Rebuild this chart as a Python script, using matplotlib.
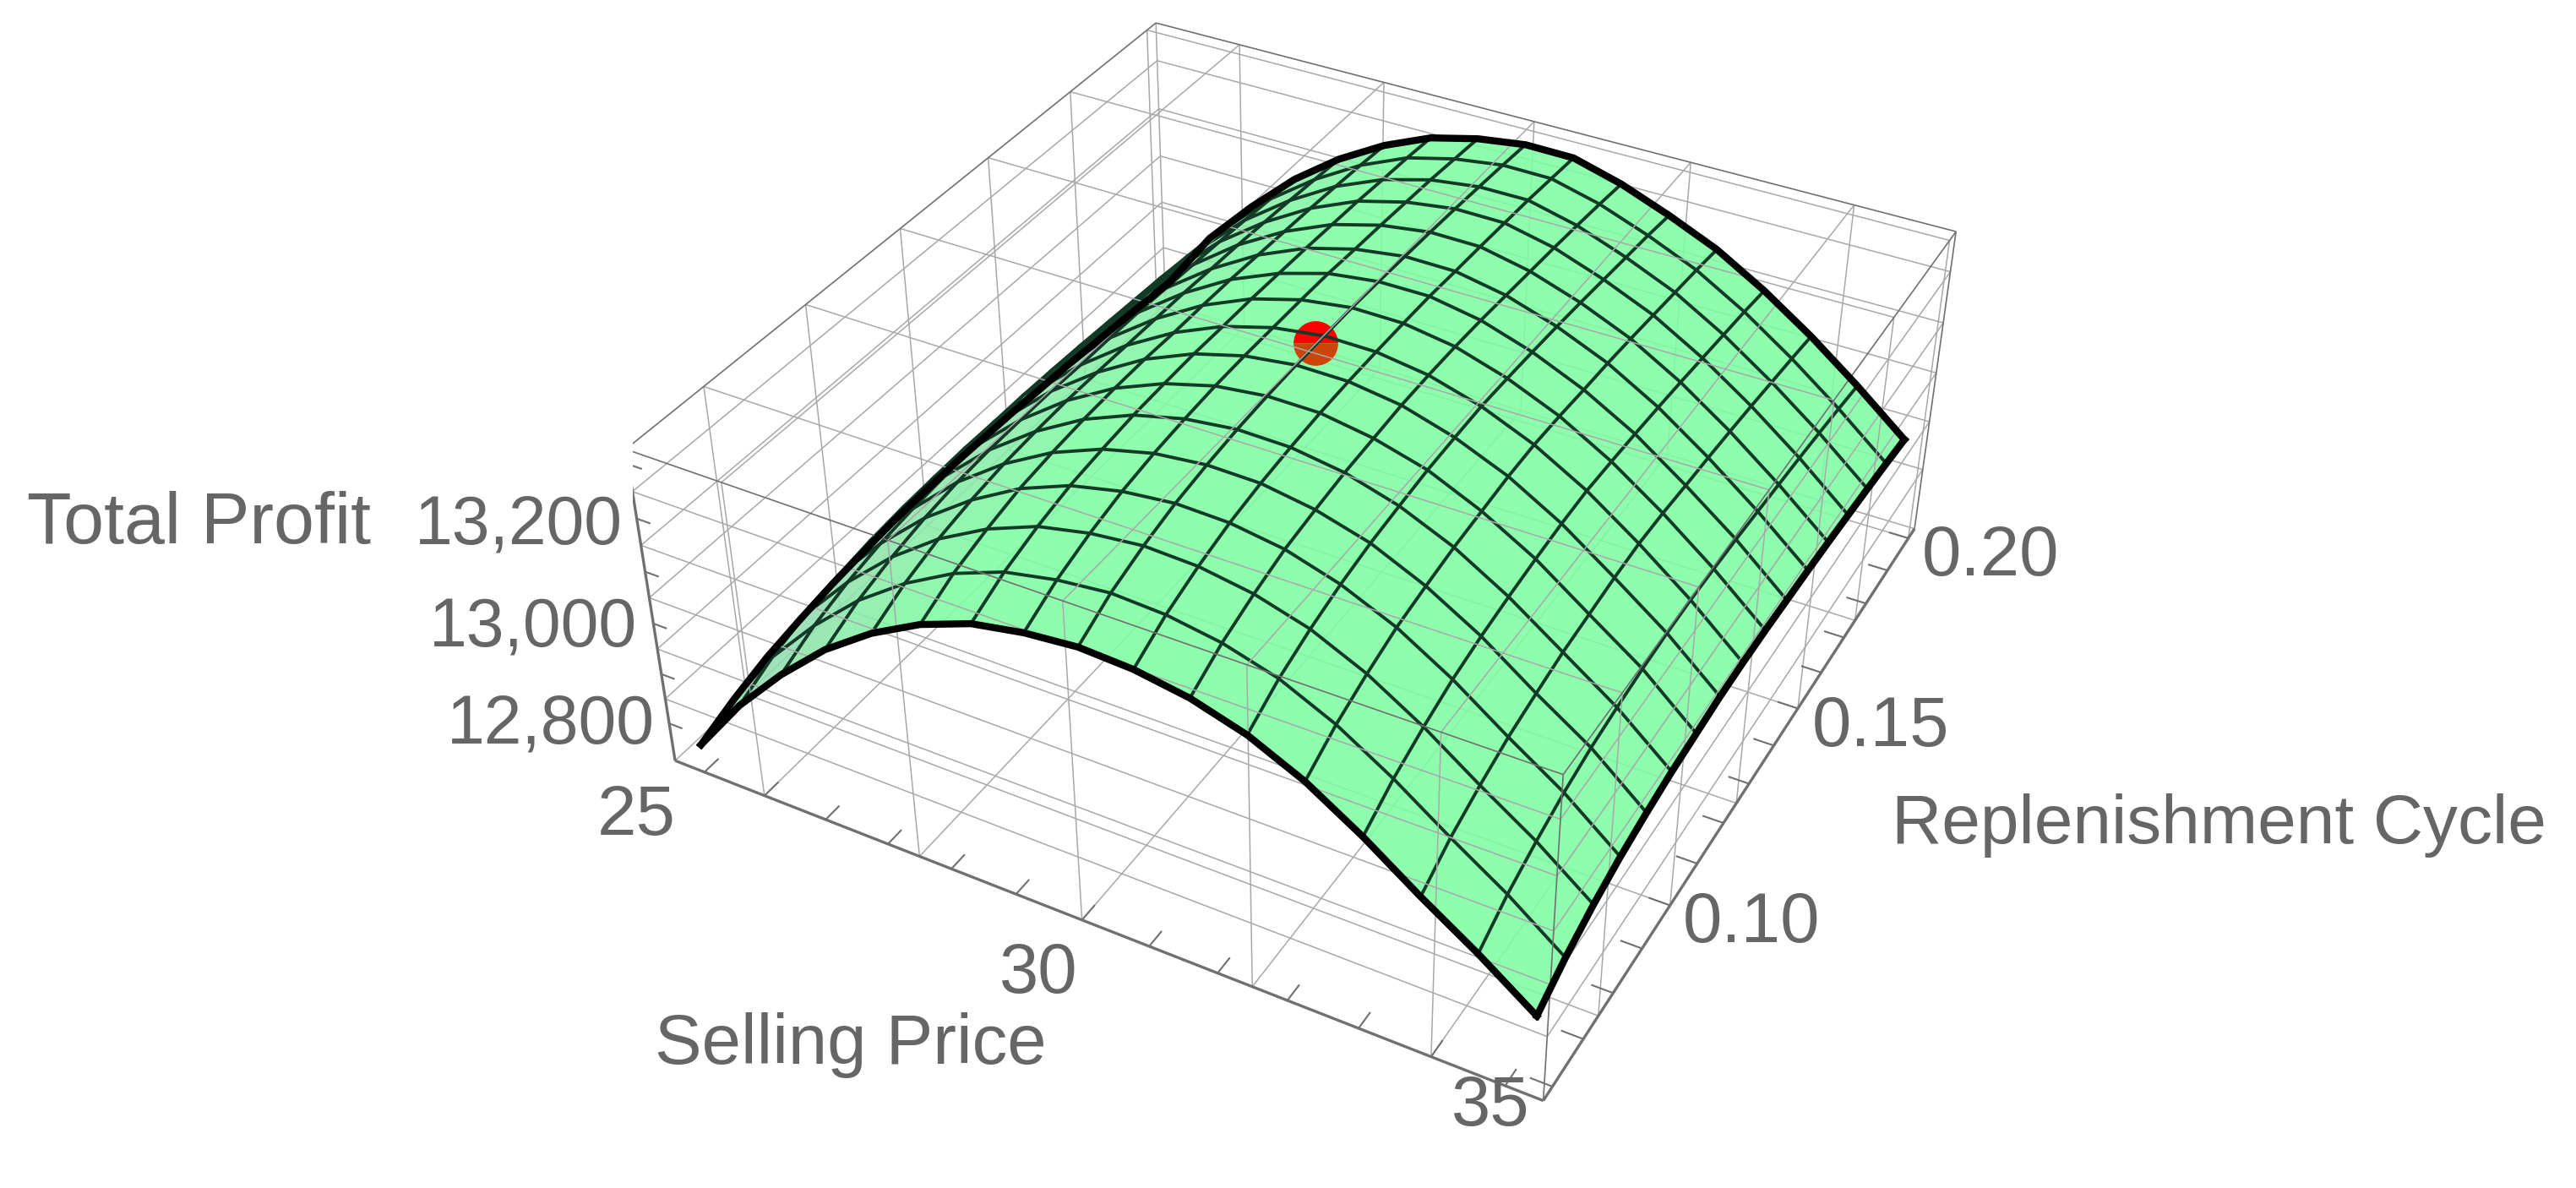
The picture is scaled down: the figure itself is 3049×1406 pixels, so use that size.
import numpy as np
import matplotlib
matplotlib.use('Agg')
import matplotlib.pyplot as plt

plt.rcParams['font.family'] = ['Liberation Sans', 'DejaVu Sans']

W, H = 3049, 1406

# box limits of the 3d frame
x_lim = (23.5057, 36.5066)
y_lim = (0.0571, 0.203)
z_lim = (12723, 13327)

# selling price / replenishment cycle at the mesh nodes
price = [23.766, 24.545, 25.324, 26.103, 26.882, 27.660, 28.439, 29.218, 29.997,
         30.776, 31.554, 32.333, 33.112, 33.891, 34.670, 35.448, 36.247]
cycle = [0.0601, 0.0688, 0.0776, 0.0863, 0.0951, 0.1038, 0.1126, 0.1213, 0.1300,
         0.1388, 0.1475, 0.1563, 0.1650, 0.1738, 0.1825, 0.1913, 0.2000]

# total profit, one row per cycle value
profit = [
    [12745, 12862, 12959, 13043, 13109, 13160, 13196, 13214, 13223, 13218, 13202, 13172, 13125, 13062, 12990, 12923, 12847],
    [12772, 12894, 12991, 13074, 13140, 13192, 13228, 13247, 13257, 13252, 13236, 13207, 13160, 13098, 13027, 12960, 12881],
    [12793, 12916, 13013, 13095, 13162, 13213, 13250, 13270, 13280, 13276, 13260, 13231, 13185, 13124, 13053, 12986, 12906],
    [12806, 12932, 13028, 13110, 13176, 13229, 13266, 13287, 13297, 13294, 13279, 13249, 13205, 13145, 13074, 13007, 12924],
    [12817, 12942, 13037, 13120, 13186, 13238, 13275, 13298, 13308, 13306, 13290, 13262, 13217, 13159, 13088, 13022, 12936],
    [12824, 12948, 13043, 13125, 13191, 13244, 13282, 13305, 13316, 13314, 13299, 13270, 13227, 13169, 13100, 13031, 12945],
    [12830, 12951, 13046, 13127, 13194, 13247, 13285, 13310, 13321, 13320, 13304, 13277, 13233, 13177, 13107, 13038, 12950],
    [12832, 12953, 13047, 13128, 13194, 13248, 13287, 13312, 13324, 13323, 13309, 13280, 13239, 13183, 13114, 13042, 12955],
    [12833, 12952, 13046, 13126, 13193, 13246, 13286, 13312, 13325, 13324, 13310, 13282, 13241, 13186, 13118, 13043, 12956],
    [12831, 12952, 13045, 13126, 13192, 13246, 13286, 13312, 13325, 13324, 13309, 13279, 13238, 13183, 13116, 13041, 12955],
    [12829, 12950, 13043, 13125, 13191, 13245, 13284, 13311, 13323, 13323, 13306, 13275, 13233, 13179, 13111, 13038, 12952],
    [12825, 12947, 13040, 13122, 13188, 13242, 13282, 13307, 13320, 13319, 13301, 13270, 13229, 13174, 13107, 13033, 12949],
    [12822, 12943, 13037, 13119, 13186, 13239, 13279, 13304, 13317, 13316, 13296, 13264, 13223, 13168, 13102, 13028, 12945],
    [12816, 12939, 13032, 13116, 13182, 13236, 13276, 13300, 13313, 13312, 13291, 13257, 13216, 13161, 13096, 13023, 12940],
    [12811, 12935, 13028, 13112, 13178, 13232, 13271, 13296, 13308, 13308, 13285, 13250, 13209, 13154, 13089, 13017, 12935],
    [12805, 12929, 13022, 13107, 13173, 13227, 13267, 13290, 13303, 13302, 13278, 13243, 13202, 13147, 13082, 13010, 12929],
    [12799, 12923, 13017, 13101, 13168, 13221, 13261, 13284, 13297, 13296, 13270, 13234, 13193, 13138, 13074, 13002, 12922],
]

# optimum marked on the surface
best_price = 29.92
best_cycle = 0.129
best_profit = 13315

# face grid and tick positions
x_grid = [25, 27.5, 30, 32.5, 35]
y_grid = [0.075, 0.1, 0.125, 0.15, 0.175, 0.2]
z_grid = [12850, 12950, 13050, 13150, 13250]
x_ticks = [24, 25, 26, 27, 28, 29, 30, 31, 32, 33, 34, 35, 36]
y_ticks = [0.06, 0.07, 0.08, 0.09, 0.1, 0.11, 0.12, 0.13, 0.14, 0.15, 0.16, 0.17, 0.18, 0.19, 0.2]
z_ticks = [12800, 12900, 13000, 13100, 13200, 13300]

GRID = '#a8a8a8'
FRAME = '#707070'
TEXT = '#666666'

fig = plt.figure(figsize=(W / 100, H / 100), dpi=100)
s, cx, cy = 1595.35, 1546.3, 604.25
ax = fig.add_axes([(cx - s / 2) / W, 1 - (cy + s / 2) / H, s / W, s / H],
                  projection='3d', computed_zorder=False)
ax.view_init(elev=36.1374, azim=-61.7041, roll=-0.1038)
ax.set_proj_type('persp', focal_length=0.4325)
ax.set_box_aspect((2.5087, 2.5137, 1))
ax.set_axis_off()
ax.patch.set_alpha(0)

x0, x1 = x_lim
y0, y1 = y_lim
z0, z1 = z_lim


def seg(a, b, color=GRID, lw=1.1, zorder=1):
    ax.plot([a[0], b[0]], [a[1], b[1]], [a[2], b[2]], color=color, lw=lw,
            zorder=zorder, solid_capstyle='butt')


# hidden faces (behind the surface) first, then the near ones on top of it
for x in x_grid:
    seg((x, y1, z0), (x, y1, z1))
    seg((x, y0, z0), (x, y1, z0))
    seg((x, y0, z1), (x, y1, z1), zorder=5)
    seg((x, y0, z0), (x, y0, z1), zorder=5)
for y in y_grid:
    seg((x0, y, z0), (x0, y, z1))
    seg((x0, y, z0), (x1, y, z0))
    seg((x0, y, z1), (x1, y, z1), zorder=5)
    seg((x1, y, z0), (x1, y, z1), zorder=5)
for z in z_grid:
    seg((x0, y0, z), (x0, y1, z))
    seg((x0, y1, z), (x1, y1, z))
    seg((x0, y0, z), (x1, y0, z), zorder=5)
    seg((x1, y0, z), (x1, y1, z), zorder=5)

# frame
for a, b in [((x0, y1, z0), (x0, y1, z1)), ((x0, y1, z0), (x1, y1, z0)), ((x0, y0, z0), (x0, y1, z0))]:
    seg(a, b, color=GRID)
for a, b in [((x0, y0, z1), (x0, y1, z1)), ((x0, y1, z1), (x1, y1, z1)), ((x1, y1, z1), (x1, y0, z1)),
             ((x0, y0, z1), (x1, y0, z1)), ((x1, y0, z0), (x1, y0, z1)), ((x1, y1, z0), (x1, y1, z1))]:
    seg(a, b, color=FRAME, lw=1.2, zorder=5)
for a, b in [((x0, y0, z0), (x0, y0, z1)), ((x0, y0, z0), (x1, y0, z0)), ((x1, y0, z0), (x1, y1, z0))]:
    seg(a, b, color=FRAME, lw=2.4, zorder=5)

# tick marks
for x in x_ticks:
    seg((x, y0, z0), (x, y0 + 0.0035, z0), color=FRAME, lw=1.5, zorder=5)
for y in y_ticks:
    seg((x1, y, z0), (x1 - 0.3, y, z0), color=FRAME, lw=1.5, zorder=5)
for z in z_ticks:
    seg((x0, y0, z), (x0 + 0.22, y0, z), color=FRAME, lw=1.5, zorder=5)

X, Y = np.meshgrid(price, cycle)
Z = np.array(profit, float)

# steep side towards the low prices is a bit greyer
xc = 0.5 * (X[:-1, :-1] + X[:-1, 1:])
t = np.clip((27.8 - xc) / 3.0, 0, 1)[..., None]
bright = np.array([126, 253, 163, 255]) / 255
dull = np.array([147, 219, 174, 255]) / 255
cols = (1 - t) * bright + t * dull
cols[..., 3] = 0.88
ax.plot_surface(X, Y, Z, facecolors=cols, rstride=1, cstride=1, shade=False,
                linewidth=0, antialiased=False, zorder=2)

# the point sits half inside the surface
ax.plot([best_price], [best_cycle], [best_profit], marker='o', ms=38, fillstyle='top', mew=0,
        mfc='#ff0000', mfcalt='#cc4408', ls='none', zorder=3)

# mesh
for j in range(1, len(price) - 1):
    ax.plot(X[:, j], Y[:, j], Z[:, j], color='#123a26', lw=2.8, zorder=4)
for i in range(1, len(cycle) - 1):
    ax.plot(X[i], Y[i], Z[i], color='#123a26', lw=2.8, zorder=4)

# boundary
ax.plot(X[0], Y[0], Z[0], color='black', lw=6, zorder=6)
ax.plot(X[-1], Y[-1], Z[-1], color='black', lw=6, zorder=6)
ax.plot(X[:, 0], Y[:, 0], Z[:, 0], color='black', lw=6, zorder=6)
ax.plot(X[:, -1], Y[:, -1], Z[:, -1], color='black', lw=6, zorder=6)

ax.set_xlim(x0, x1)
ax.set_ylim(y0, y1)
ax.set_zlim(z0, z1)


def label(px, py, s, ha='center', size=58):
    fig.text(px / W, 1 - py / H, s, ha=ha, va='center', color=TEXT, fontsize=size)


label(32, 621, 'Total Profit', ha='left', size=62)
label(737, 622, '13,200', ha='right')
label(754, 744, '13,000', ha='right')
label(775, 859, '12,800', ha='right')
label(800, 966, '25', ha='right', size=60)
label(1229, 1153, '30', size=60)
label(1764, 1310, '35', size=60)
label(1007, 1237, 'Selling Price', size=60)
label(2356, 659, '0.20', size=60)
label(2226, 861, '0.15', size=60)
label(2073, 1093, '0.10', size=60)
label(2239, 977, 'Replenishment Cycle', ha='left', size=59)

fig.savefig('out.png', dpi=100)
